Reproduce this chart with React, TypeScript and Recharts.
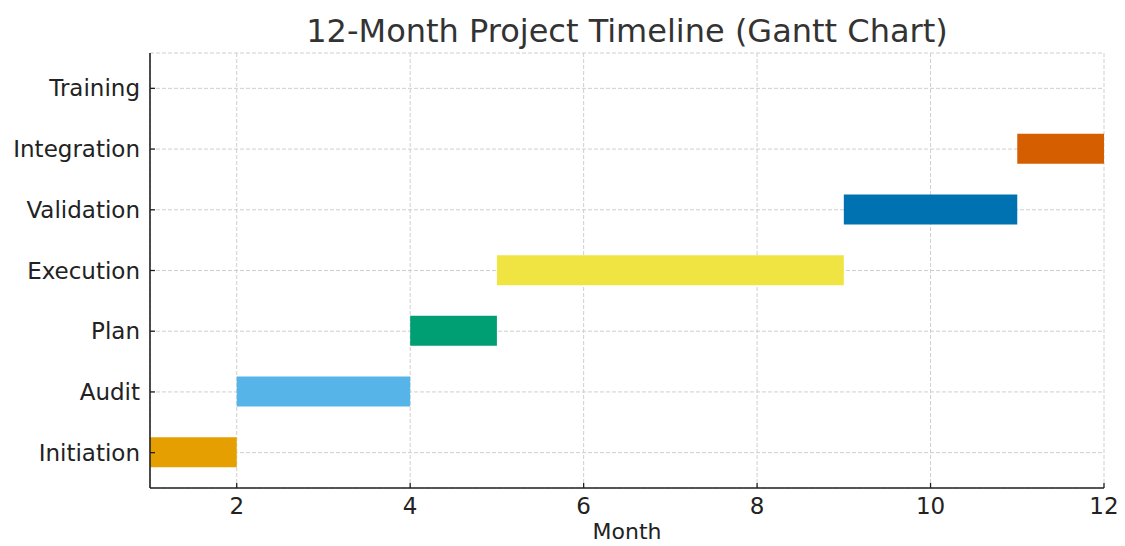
import React from "react";
import {
  BarChart,
  Bar,
  XAxis,
  YAxis,
  CartesianGrid,
  Cell,
} from "recharts";

const tasks = ["Initiation", "Audit", "Plan", "Execution", "Validation", "Integration", "Training"];
const starts = [1, 2, 4, 5, 9, 11, null];
const ends = [2, 4, 5, 9, 11, 12, null];
const colors = ["#E69F00", "#56B4E9", "#009E73", "#F0E442", "#0072B2", "#D55E00", "#CC79A7"];
const monthTicks = [2, 4, 6, 8, 10, 12];

// top of chart shows the last task, so reverse for the category axis
const data = tasks
  .map((name, i) => ({
    name,
    range: starts[i] == null ? null : [starts[i], ends[i]],
    color: colors[i],
  }))
  .reverse();

const FONT = "DejaVu Sans, sans-serif";
const INK = "#222";

const YTick = (props: any) => {
  const { x, y, payload } = props;
  return (
    <g>
      <line x1={x + 7} x2={x + 12} y1={y} y2={y} stroke={INK} strokeWidth={1.3} />
      <text x={x - 3} y={y} textAnchor="end" dominantBaseline="central" fontSize={23} fill={INK} fontFamily={FONT}>
        {payload.value}
      </text>
    </g>
  );
};

const XTick = (props: any) => {
  const { x, y, payload } = props;
  return (
    <g>
      <line x1={x} x2={x} y1={y - 8} y2={y - 13} stroke={INK} strokeWidth={1.3} />
      <text x={x} y={y + 10} textAnchor="middle" dominantBaseline="central" fontSize={23} fill={INK} fontFamily={FONT}>
        {payload.value}
      </text>
    </g>
  );
};

const MonthLabel = (props: any) => {
  const { viewBox } = props;
  const cx = viewBox.x + viewBox.width / 2;
  return (
    <text x={cx} y={531} textAnchor="middle" dominantBaseline="central" fontSize={22} fill={INK} fontFamily={FONT}>
      Month
    </text>
  );
};

export default function App() {
  return (
    <div style={{ position: "absolute", left: 0, top: 0, width: 1125, height: 546, background: "#fff" }}>
      <div
        style={{
          position: "absolute",
          left: 150,
          width: 954,
          top: 11,
          textAlign: "center",
          fontFamily: FONT,
          fontSize: 32,
          color: "#333",
          lineHeight: "40px",
        }}
      >
        12-Month Project Timeline (Gantt Chart)
      </div>
      <BarChart
        width={1125}
        height={546}
        data={data}
        layout="vertical"
        margin={{ top: 53, right: 21, bottom: 0, left: 0 }}
        barSize={30}
      >
        <XAxis
          type="number"
          domain={[1, 12]}
          ticks={monthTicks}
          allowDataOverflow
          height={58}
          tickSize={0}
          tickMargin={8}
          tick={<XTick />}
          tickLine={false}
          axisLine={{ stroke: INK, strokeWidth: 1.6 }}
          label={<MonthLabel />}
        />
        <YAxis
          type="category"
          dataKey="name"
          width={150}
          padding={{ top: 5, bottom: 5 }}
          tickSize={0}
          tickMargin={7}
          tick={<YTick />}
          tickLine={false}
          axisLine={{ stroke: INK, strokeWidth: 1.6 }}
          interval={0}
        />
        <Bar dataKey="range" isAnimationActive={false}>
          {data.map((d) => (
            <Cell key={d.name} fill={d.color} />
          ))}
        </Bar>
        <CartesianGrid stroke="#cfcfcf" strokeDasharray="4 2" strokeWidth={1} horizontal vertical />
      </BarChart>
    </div>
  );
}
